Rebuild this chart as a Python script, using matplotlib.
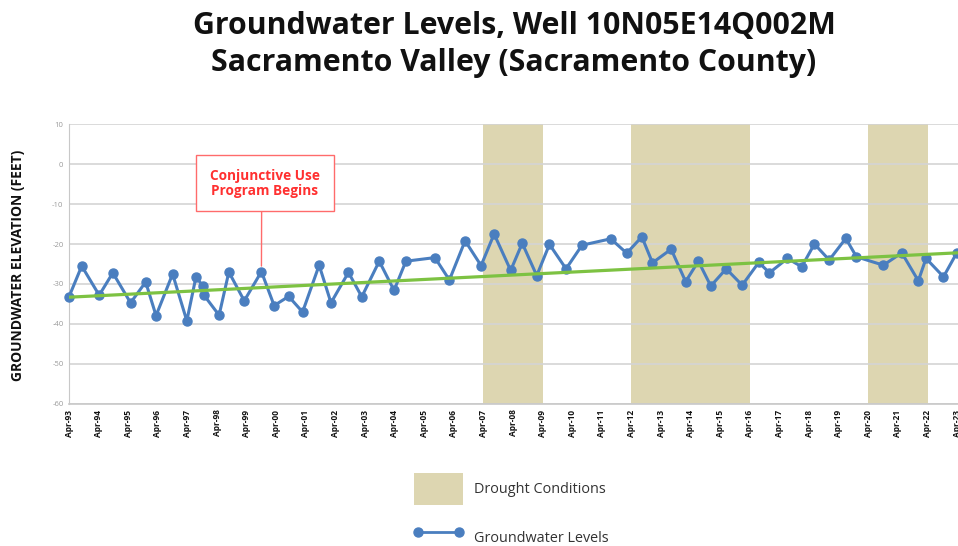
import matplotlib
matplotlib.use("Agg")
import matplotlib.pyplot as plt
from matplotlib.patches import Patch
from matplotlib.lines import Line2D

# groundwater readings (decimal year, elevation in feet)
years = [1993.25, 1993.68, 1994.27, 1994.73, 1995.33, 1995.84, 1996.19, 1996.75, 1997.23, 1997.54,
         1997.77, 1997.81, 1998.32, 1998.65, 1999.17, 1999.75, 2000.18, 2000.67, 2001.14, 2001.70,
         2002.10, 2002.69, 2003.14, 2003.73, 2004.23, 2004.63, 2005.61, 2006.10, 2006.63, 2007.17,
         2007.61, 2008.17, 2008.56, 2009.05, 2009.48, 2010.04, 2010.58, 2011.55, 2012.09, 2012.60,
         2012.96, 2013.59, 2014.08, 2014.51, 2014.93, 2015.45, 2015.99, 2016.55, 2016.91, 2017.52,
         2018.00, 2018.43, 2018.93, 2019.49, 2019.85, 2020.76, 2021.38, 2021.94, 2022.20, 2022.79,
         2023.24]
levels = [-33.2, -25.5, -32.8, -27.2, -34.7, -29.5, -37.9, -27.5, -39.2, -28.2,
          -30.5, -32.8, -37.8, -27.0, -34.2, -26.9, -35.4, -33.1, -37.0, -25.3,
          -34.7, -27.1, -33.2, -24.3, -31.6, -24.3, -23.4, -29.0, -19.2, -25.4,
          -17.5, -26.6, -19.8, -27.9, -20.1, -26.2, -20.3, -18.7, -22.3, -18.2,
          -24.7, -21.3, -29.4, -24.3, -30.5, -26.2, -30.3, -24.6, -27.2, -23.6,
          -25.7, -20.0, -24.0, -18.6, -23.2, -25.3, -22.2, -29.2, -23.6, -28.2,
          -22.2]

# linear trend
trend_years = [1993.25, 2023.28]
trend_levels = [-33.3, -22.2]

# drought periods (start, end)
drought_start = [2007.25, 2012.25, 2020.25]
drought_end = [2009.25, 2016.25, 2022.25]

tick_years = [1993.25 + i for i in range(31)]
tick_labels = ["Apr-93", "Apr-94", "Apr-95", "Apr-96", "Apr-97", "Apr-98", "Apr-99", "Apr-00",
               "Apr-01", "Apr-02", "Apr-03", "Apr-04", "Apr-05", "Apr-06", "Apr-07", "Apr-08",
               "Apr-09", "Apr-10", "Apr-11", "Apr-12", "Apr-13", "Apr-14", "Apr-15", "Apr-16",
               "Apr-17", "Apr-18", "Apr-19", "Apr-20", "Apr-21", "Apr-22", "Apr-23"]
y_ticks = [-60, -50, -40, -30, -20, -10, 0, 10]

annot_index = 15  # Conjunctive Use program start

BLUE = "#4a7ebf"
GREEN = "#7dc242"
TAN = "#ddd6b1"
RED = "#ff3030"

plt.rcParams["font.family"] = ["Open Sans", "DejaVu Sans"]

fig = plt.figure(figsize=(9.58, 5.46), dpi=100)
ax = fig.add_axes([69 / 958, 142 / 546, 889 / 958, 280 / 546])

for s, e in zip(drought_start, drought_end):
    ax.axvspan(s, e, color=TAN, lw=0, zorder=0)

ax.plot(years, levels, color=BLUE, lw=2.2, marker="o", markersize=6.5,
        zorder=3, clip_on=False)
ax.plot(trend_years, trend_levels, color=GREEN, lw=2.3, zorder=4)

ax.annotate("Conjunctive Use\nProgram Begins",
            xy=(years[annot_index], levels[annot_index]),
            xytext=(1999.87, -4.8), textcoords="data",
            ha="center", va="center", color=RED, fontsize=9.8, fontweight="bold",
            linespacing=1.1,
            bbox=dict(boxstyle="square,pad=1.0", fc="white", ec="#ff6b6b", lw=1.0),
            arrowprops=dict(arrowstyle="-", color="#ff6b6b", lw=1.0,
                            relpos=(0.47, 0.0), shrinkA=0, shrinkB=4),
            zorder=5)

ax.set_xlim(1993.25, 2023.28)
ax.set_ylim(-60, 10)
ax.set_yticks(y_ticks)
ax.set_yticklabels([str(v) for v in y_ticks], fontsize=5.5, color="#9a9a9a")
ax.set_xticks(tick_years)
ax.set_xticklabels(tick_labels, rotation=90, fontsize=6, fontweight="bold", color="#111111")
ax.tick_params(axis="both", length=0, pad=4)
ax.yaxis.grid(True, color="#d4d4d4", lw=1.2)
ax.set_axisbelow(True)
for side in ["top", "right"]:
    ax.spines[side].set_visible(False)
ax.spines["left"].set_color("#c8c8c8")
ax.spines["bottom"].set_color("#c8c8c8")
ax.spines["bottom"].set_linewidth(1.2)

fig.text(18 / 958, 1 - 265 / 546, "GROUNDWATER ELEVATION (FEET)", rotation=90,
         ha="center", va="center", fontsize=10, fontweight="bold", color="#111111")

fig.text(514 / 958, 1 - 26 / 546, "Groundwater Levels, Well 10N05E14Q002M",
         ha="center", va="center", fontsize=21.8, fontweight="bold", color="#111111")
fig.text(514 / 958, 1 - 63 / 546, "Sacramento Valley (Sacramento County)",
         ha="center", va="center", fontsize=21.8, fontweight="bold", color="#111111")

handles = [Patch(facecolor=TAN, edgecolor="none"),
           Line2D([0], [0], color=BLUE, lw=2.0, marker="o", markersize=6.5)]
fig.legend(handles, ["Drought Conditions", "Groundwater Levels"],
           loc="upper left", bbox_to_anchor=(414 / 958, 1 - 473 / 546),
           frameon=False, fontsize=10.4, labelcolor="#333333",
           handlelength=3.4, handleheight=3.0, handletextpad=0.75,
           labelspacing=1.2, borderpad=0, borderaxespad=0, numpoints=2)

fig.savefig("out.png", dpi=100)
